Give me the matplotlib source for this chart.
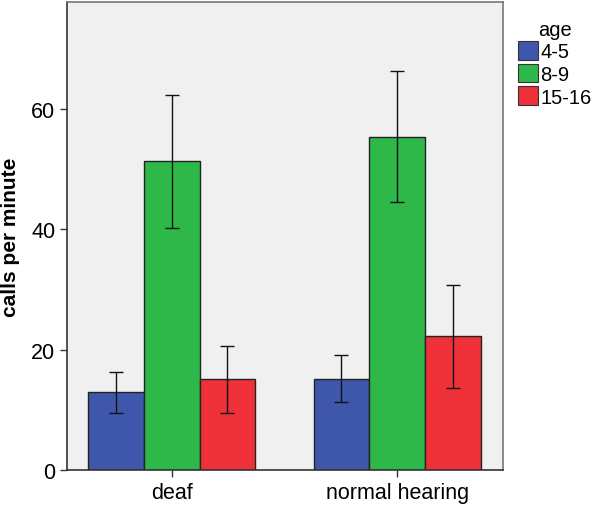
import numpy as np
import matplotlib.pyplot as plt
from matplotlib.patches import Patch

plt.rcParams['font.family'] = ['Liberation Sans', 'DejaVu Sans']

groups = ["deaf", "normal hearing"]
ages = ["4-5", "8-9", "15-16"]
colors = ["#3f57aa", "#2fb84a", "#ee3039"]

# mittelwerte und fehlerbalken (unten / oben) je altersgruppe
means = {
    "4-5": [12.9, 15.2],
    "8-9": [51.4, 55.4],
    "15-16": [15.1, 22.3],
}
err_low = {
    "4-5": [9.4, 11.3],
    "8-9": [40.3, 44.5],
    "15-16": [9.5, 13.7],
}
err_high = {
    "4-5": [16.3, 19.1],
    "8-9": [62.4, 66.4],
    "15-16": [20.6, 30.8],
}

fig = plt.figure(figsize=(6, 5.06), dpi=100)
ax = fig.add_axes([0.1117, 0.0692, 0.7266, 0.9249])
ax.set_facecolor("#f0f0f0")

x = np.arange(len(groups))
width = 0.247
for i, age in enumerate(ages):
    pos = x + (i - 1) * width
    m = np.array(means[age])
    lo = m - np.array(err_low[age])
    hi = np.array(err_high[age]) - m
    ax.bar(pos, m, width, color=colors[i], edgecolor="#222222", linewidth=1.0, zorder=2)
    ax.errorbar(pos, m, yerr=[lo, hi], fmt="none", ecolor="#111111",
                elinewidth=1.0, capsize=5, capthick=1.0, zorder=3)

ax.set_xlim(-0.465, 1.47)
ax.set_ylim(0, 77.8)
ax.set_yticks([0, 20, 40, 60])
ax.set_xticks(x)
ax.set_xticklabels(groups)
ax.tick_params(axis="both", labelsize=15.5, length=5, width=1, color="#333333", direction="out")
ax.tick_params(axis="x", pad=4)
ax.set_ylabel("calls per minute", fontsize=15, fontweight="bold", labelpad=8)

for side in ["left", "bottom"]:
    ax.spines[side].set_color("#333333")
for side in ["top", "right"]:
    ax.spines[side].set_color("#777777")
for s in ax.spines.values():
    s.set_linewidth(1.2)

handles = [Patch(facecolor=c, edgecolor="#333333", linewidth=0.8) for c in colors]
leg = fig.legend(handles, ages, title="age", loc="upper left",
                 bbox_to_anchor=(0.85, 0.975), frameon=False, fontsize=14.5,
                 title_fontsize=14.5, handlelength=1.0, handleheight=1.05,
                 handletextpad=0.1, labelspacing=0.12, borderaxespad=0)
leg._legend_box.align = "center"

fig.savefig("out.png", dpi=100)
